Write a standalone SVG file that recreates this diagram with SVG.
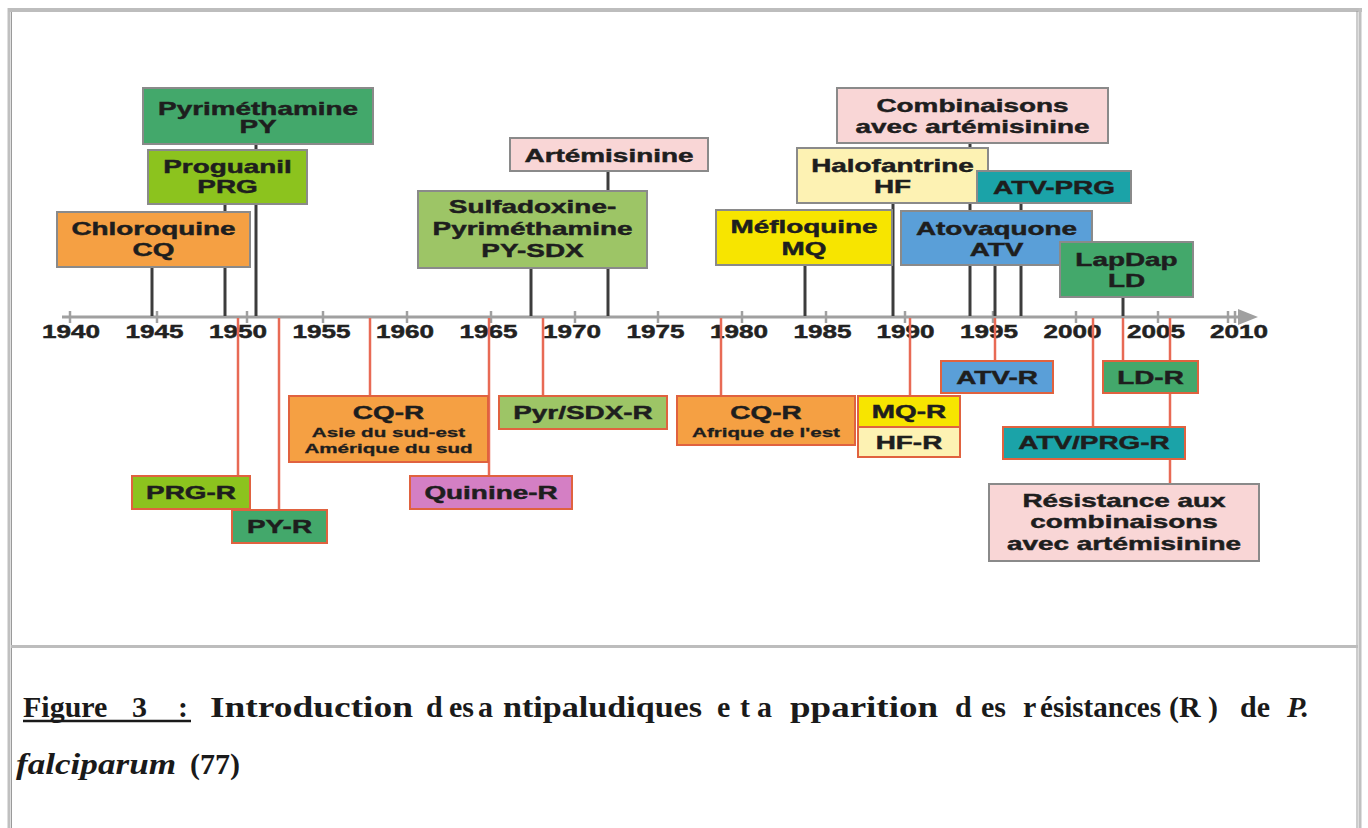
<svg xmlns="http://www.w3.org/2000/svg" width="1368" height="828" viewBox="0 0 1368 828">
<style>
.lbl{font-family:"Liberation Sans",Arial,sans-serif;font-weight:bold;font-size:18px;fill:#1e1e1e;stroke:#1e1e1e;stroke-width:0.45;text-anchor:middle}
.sm{font-size:13.3px;stroke-width:0.3}
.yr{font-family:"Liberation Sans",Arial,sans-serif;font-weight:bold;font-size:18px;fill:#222;stroke:#222;stroke-width:0.45;text-anchor:middle}
.top{stroke:#8a8a8a;stroke-width:2}
.bot{stroke:#e0623f;stroke-width:2}
.dk{stroke:#3c3c3c;stroke-width:3;fill:none}
.rd{stroke:#e86a55;stroke-width:2.5;fill:none}
.tick{stroke:#a0a0a0;stroke-width:2.5}
.cap{font-family:"Liberation Serif","Times New Roman",serif;font-weight:bold;font-size:30px;fill:#1a1a1a}
.it{font-style:italic}
.green{fill:#43a86b}
.ygreen{fill:#8cc31e}
.orange{fill:#f5a043}
.pink{fill:#f9d6d6}
.olive{fill:#9dc566}
.yellow{fill:#f7e500}
.pale{fill:#fdf2b3}
.teal{fill:#1ba3a8}
.blue{fill:#5a9fd8}
.purple{fill:#d47fc4}
</style>
<rect width="1368" height="828" fill="#ffffff"/>
<g id="frame" fill="none">
<line x1="9" y1="8" x2="9" y2="828" stroke="#c0c0c0" stroke-width="3"/>
<line x1="11.5" y1="11" x2="11.5" y2="828" stroke="#9a9a9a" stroke-width="1"/>
<line x1="8" y1="10" x2="1362" y2="10" stroke="#bdbdbd" stroke-width="4"/>
<line x1="1360" y1="8" x2="1360" y2="828" stroke="#c0c0c0" stroke-width="3"/>
<line x1="1357" y1="11" x2="1357" y2="828" stroke="#9a9a9a" stroke-width="1"/>
<line x1="11" y1="646.5" x2="1358" y2="646.5" stroke="#bdbdbd" stroke-width="3"/>
</g>
<g id="axis">
<line x1="62" y1="317" x2="1242" y2="317" stroke="#a0a0a0" stroke-width="3"/>
<polygon points="1238,309 1258,317 1238,325" fill="#a0a0a0"/>
<g class="tick">
<line x1="70" y1="311" x2="70" y2="323"/><line x1="157" y1="311" x2="157" y2="323"/><line x1="247" y1="311" x2="247" y2="323"/><line x1="323" y1="311" x2="323" y2="323"/><line x1="407" y1="311" x2="407" y2="323"/><line x1="491" y1="311" x2="491" y2="323"/><line x1="575" y1="311" x2="575" y2="323"/><line x1="658" y1="311" x2="658" y2="323"/><line x1="742" y1="311" x2="742" y2="323"/><line x1="826" y1="311" x2="826" y2="323"/><line x1="905" y1="311" x2="905" y2="323"/><line x1="993" y1="311" x2="993" y2="323"/><line x1="1076" y1="311" x2="1076" y2="323"/><line x1="1158" y1="311" x2="1158" y2="323"/><line x1="1228" y1="311" x2="1228" y2="323"/><line x1="1235" y1="311" x2="1235" y2="323"/>
</g>
<text class="yr" transform="matrix(1.45 0 0 1 71 338)">1940</text>
<text class="yr" transform="matrix(1.45 0 0 1 154.5 338)">1945</text>
<text class="yr" transform="matrix(1.45 0 0 1 238 338)">1950</text>
<text class="yr" transform="matrix(1.45 0 0 1 321.5 338)">1955</text>
<text class="yr" transform="matrix(1.45 0 0 1 405 338)">1960</text>
<text class="yr" transform="matrix(1.45 0 0 1 488.5 338)">1965</text>
<text class="yr" transform="matrix(1.45 0 0 1 572 338)">1970</text>
<text class="yr" transform="matrix(1.45 0 0 1 655.5 338)">1975</text>
<text class="yr" transform="matrix(1.45 0 0 1 739 338)">1980</text>
<text class="yr" transform="matrix(1.45 0 0 1 822.5 338)">1985</text>
<text class="yr" transform="matrix(1.45 0 0 1 905.5 338)">1990</text>
<text class="yr" transform="matrix(1.45 0 0 1 989 338)">1995</text>
<text class="yr" transform="matrix(1.45 0 0 1 1072.5 338)">2000</text>
<text class="yr" transform="matrix(1.45 0 0 1 1156 338)">2005</text>
<text class="yr" transform="matrix(1.45 0 0 1 1239 338)">2010</text>
</g>
<g id="connectors">
<line class="dk" x1="152" y1="267" x2="152" y2="316"/>
<line class="dk" x1="225" y1="204" x2="225" y2="316"/>
<line class="dk" x1="256" y1="144" x2="256" y2="316"/>
<line class="dk" x1="531" y1="268" x2="531" y2="316"/>
<line class="dk" x1="608" y1="171" x2="608" y2="316"/>
<line class="dk" x1="805" y1="265" x2="805" y2="316"/>
<line class="dk" x1="893" y1="203" x2="893" y2="316"/>
<line class="dk" x1="970" y1="143" x2="970" y2="316"/>
<line class="dk" x1="995" y1="265" x2="995" y2="316"/>
<line class="dk" x1="1021" y1="203" x2="1021" y2="316"/>
<line class="dk" x1="1123" y1="297" x2="1123" y2="316"/>
<line class="rd" x1="238" y1="318" x2="238" y2="476"/>
<line class="rd" x1="279" y1="318" x2="279" y2="510"/>
<line class="rd" x1="370" y1="318" x2="370" y2="396"/>
<line class="rd" x1="489" y1="318" x2="489" y2="476"/>
<line class="rd" x1="543" y1="318" x2="543" y2="396"/>
<line class="rd" x1="721" y1="318" x2="721" y2="396"/>
<line class="rd" x1="910" y1="318" x2="910" y2="396"/>
<line class="rd" x1="995" y1="318" x2="995" y2="361"/>
<line class="rd" x1="1123" y1="318" x2="1123" y2="361"/>
<line class="rd" x1="1093" y1="318" x2="1093" y2="427"/>
<line class="rd" x1="1170" y1="318" x2="1170" y2="484"/>
</g>
<g id="n-py"><rect class="green top" x="143" y="88" width="230" height="56"/>
<text class="lbl" transform="matrix(1.55 0 0 1 258 115)"><tspan x="0" y="0">Pyriméthamine</tspan><tspan x="0" y="18">PY</tspan></text></g>
<g id="n-prg"><rect class="ygreen top" x="148" y="150" width="159" height="54"/>
<text class="lbl" transform="matrix(1.55 0 0 1 227.5 173)"><tspan x="0" y="0">Proguanil</tspan><tspan x="0" y="20">PRG</tspan></text></g>
<g id="n-cq"><rect class="orange top" x="57" y="212" width="193" height="55"/>
<text class="lbl" transform="matrix(1.55 0 0 1 153.5 235)"><tspan x="0" y="0">Chloroquine</tspan><tspan x="0" y="21">CQ</tspan></text></g>
<g id="n-art"><rect class="pink top" x="510" y="138" width="198" height="33"/>
<text class="lbl" transform="matrix(1.55 0 0 1 609 162)">Artémisinine</text></g>
<g id="n-sdx"><rect class="olive top" x="418" y="191" width="229" height="77"/>
<text class="lbl" transform="matrix(1.55 0 0 1 532.5 213)"><tspan x="0" y="0">Sulfadoxine-</tspan><tspan x="0" y="22">Pyriméthamine</tspan><tspan x="0" y="44">PY-SDX</tspan></text></g>
<g id="n-mq"><rect class="yellow top" x="716" y="210" width="176" height="55"/>
<text class="lbl" transform="matrix(1.55 0 0 1 804 233)"><tspan x="0" y="0">Méfloquine</tspan><tspan x="0" y="22">MQ</tspan></text></g>
<g id="n-hf"><rect class="pale top" x="797" y="148" width="191" height="55"/>
<text class="lbl" transform="matrix(1.55 0 0 1 892.5 172)"><tspan x="0" y="0">Halofantrine</tspan><tspan x="0" y="21">HF</tspan></text></g>
<g id="n-comb"><rect class="pink top" x="837" y="88" width="271" height="55"/>
<text class="lbl" transform="matrix(1.55 0 0 1 972.5 112)"><tspan x="0" y="0">Combinaisons</tspan><tspan x="0" y="21">avec artémisinine</tspan></text></g>
<g id="n-atvprg"><rect class="teal top" x="977" y="171" width="154" height="32"/>
<text class="lbl" transform="matrix(1.55 0 0 1 1054 194)">ATV-PRG</text></g>
<g id="n-atv"><rect class="blue top" x="901" y="211" width="191" height="54"/>
<text class="lbl" transform="matrix(1.55 0 0 1 996.5 235)"><tspan x="0" y="0">Atovaquone</tspan><tspan x="0" y="21">ATV</tspan></text></g>
<g id="n-ld"><rect class="green top" x="1060" y="242" width="133" height="55"/>
<text class="lbl" transform="matrix(1.55 0 0 1 1126.5 266)"><tspan x="0" y="0">LapDap</tspan><tspan x="0" y="21">LD</tspan></text></g>
<g id="n-prgr"><rect class="ygreen bot" x="132" y="476" width="118" height="33"/>
<text class="lbl" transform="matrix(1.55 0 0 1 191 499)">PRG-R</text></g>
<g id="n-pyr"><rect class="green bot" x="232" y="510" width="95" height="33"/>
<text class="lbl" transform="matrix(1.55 0 0 1 279.5 533)">PY-R</text></g>
<g id="n-cqr1"><rect class="orange bot" x="289" y="396" width="199" height="66"/>
<text class="lbl" transform="matrix(1.55 0 0 1 388.5 419)"><tspan x="0" y="0">CQ-R</tspan><tspan class="sm" x="0" y="18">Asie du sud-est</tspan><tspan class="sm" x="0" y="34">Amérique du sud</tspan></text></g>
<g id="n-quir"><rect class="purple bot" x="410" y="476" width="162" height="33"/>
<text class="lbl" transform="matrix(1.55 0 0 1 491 499)">Quinine-R</text></g>
<g id="n-sdxr"><rect class="olive bot" x="499" y="396" width="168" height="33"/>
<text class="lbl" transform="matrix(1.55 0 0 1 583 419)">Pyr/SDX-R</text></g>
<g id="n-cqr2"><rect class="orange bot" x="677" y="396" width="178" height="49"/>
<text class="lbl" transform="matrix(1.55 0 0 1 766 419)"><tspan x="0" y="0">CQ-R</tspan><tspan class="sm" x="0" y="18">Afrique de l'est</tspan></text></g>
<g id="n-mqr"><rect class="yellow bot" x="858" y="396" width="102" height="31"/>
<text class="lbl" transform="matrix(1.55 0 0 1 909 418)">MQ-R</text></g>
<g id="n-hfr"><rect class="pale bot" x="858" y="427" width="102" height="30"/>
<text class="lbl" transform="matrix(1.55 0 0 1 909 449)">HF-R</text></g>
<g id="n-atvr"><rect class="blue bot" x="941" y="361" width="112" height="32"/>
<text class="lbl" transform="matrix(1.55 0 0 1 997 384)">ATV-R</text></g>
<g id="n-ldr"><rect class="green bot" x="1103" y="361" width="95" height="32"/>
<text class="lbl" transform="matrix(1.55 0 0 1 1150.5 384)">LD-R</text></g>
<g id="n-atvprgr"><rect class="teal bot" x="1003" y="427" width="182" height="32"/>
<text class="lbl" transform="matrix(1.55 0 0 1 1094 449)">ATV/PRG-R</text></g>
<g id="n-resart"><rect class="pink top" x="989" y="484" width="270" height="77"/>
<text class="lbl" transform="matrix(1.55 0 0 1 1124 507)"><tspan x="0" y="0">Résistance aux</tspan><tspan x="0" y="21.5">combinaisons</tspan><tspan x="0" y="43">avec artémisinine</tspan></text></g>
<g id="caption" class="cap">
<text x="23" y="717">Figure</text>
<text x="132" y="717">3</text>
<text x="178" y="717">:</text>
<line x1="23" y1="721" x2="191" y2="721" stroke="#1a1a1a" stroke-width="2.5"/>
<text x="210" y="717" textLength="203" lengthAdjust="spacingAndGlyphs">Introduction</text>
<text x="426" y="717">d</text>
<text x="449" y="717">es</text>
<text x="478" y="717">a</text>
<text x="503" y="717" textLength="199" lengthAdjust="spacingAndGlyphs">ntipaludiques</text>
<text x="717" y="717">e</text>
<text x="740" y="717">t</text>
<text x="757" y="717">a</text>
<text x="790" y="717" textLength="148" lengthAdjust="spacingAndGlyphs">pparition</text>
<text x="955" y="717">d</text>
<text x="981" y="717">es</text>
<text x="1023" y="717">r</text>
<text x="1040" y="717" textLength="121" lengthAdjust="spacingAndGlyphs">ésistances</text>
<text x="1169" y="717">(R</text>
<text x="1208" y="717">)</text>
<text x="1240" y="717">de</text>
<text x="1287" y="717" class="it">P.</text>
<text x="16" y="774" class="it" textLength="160" lengthAdjust="spacingAndGlyphs">falciparum</text>
<text x="190" y="774">(77)</text>
</g>
</svg>
